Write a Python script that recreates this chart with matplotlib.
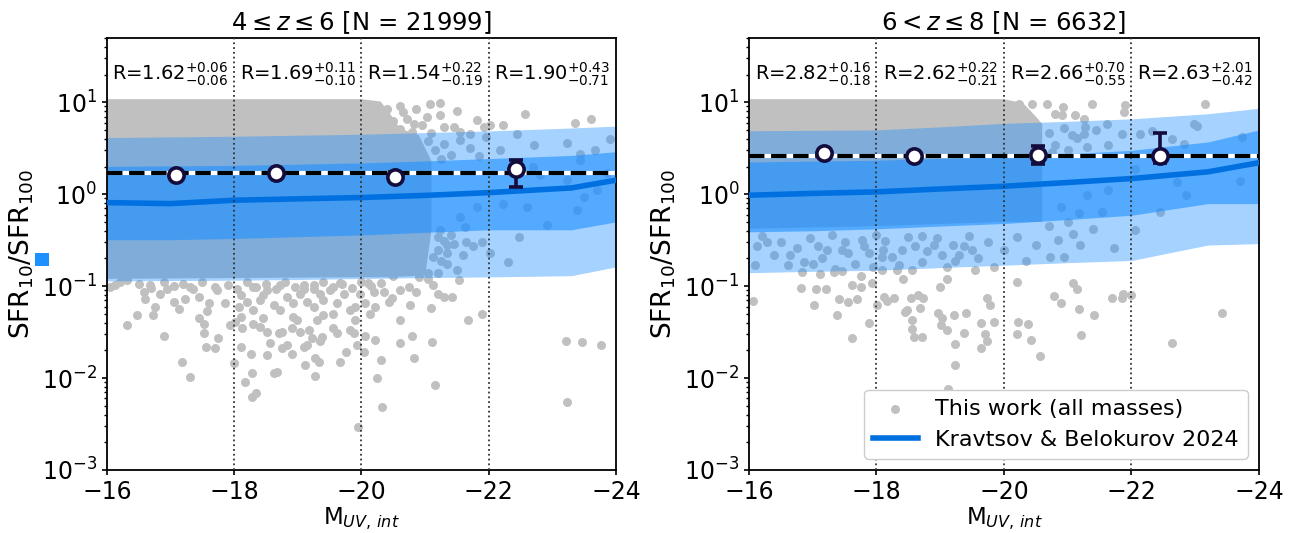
"""SFR10/SFR100 vs intrinsic UV magnitude in two redshift bins, compared to
the Kravtsov & Belokurov 2024 model bands. Values read off the published figure.
"""
import matplotlib.pyplot as plt
from matplotlib.patches import Rectangle

DPI = 100
GRAY = "#c0c0c0"
BAND = "#1e90ff"
MEDIAN_BLUE = "#0070e0"
NAVY = "#140c3c"

# --- model bands (Kravtsov & Belokurov 2024) --------------------------------
KB_MAG_LO = [-16, -17, -18, -19, -20, -21, -22, -23.3, -24]
KB_MED_LO = [0.81, 0.79, 0.86, 0.89, 0.92, 0.97, 1.04, 1.17, 1.42]
KB_IN_LO_LO = [0.32, 0.32, 0.33, 0.345, 0.36, 0.385, 0.41, 0.41, 0.50]
KB_IN_HI_LO = [2.01, 2.03, 2.06, 2.12, 2.19, 2.30, 2.44, 2.64, 2.90]
KB_OUT_LO_LO = [0.114, 0.115, 0.116, 0.118, 0.121, 0.124, 0.126, 0.13, 0.162]
KB_OUT_HI_LO = [4.13, 4.20, 4.27, 4.38, 4.49, 4.68, 4.88, 5.25, 5.50]

KB_MAG_HI = [-16, -17, -18, -19, -20, -21, -22, -23.2, -24]
KB_MED_HI = [0.975, 1.02, 1.06, 1.14, 1.22, 1.34, 1.48, 1.75, 2.20]
KB_IN_LO_HI = [0.39, 0.40, 0.42, 0.45, 0.48, 0.53, 0.59, 0.79, 0.79]
KB_IN_HI_HI = [2.24, 2.29, 2.34, 2.45, 2.55, 2.75, 3.00, 3.70, 5.00]
KB_OUT_LO_HI = [0.14, 0.145, 0.149, 0.159, 0.169, 0.18, 0.19, 0.28, 0.29]
KB_OUT_HI_HI = [4.9, 4.95, 5.0, 5.4, 5.9, 6.2, 6.6, 7.5, 8.6]

# --- binned medians ---------------------------------------------------------
BIN_MAG_LO = [-17.09, -18.66, -20.53, -22.43]
R_LO = [1.62, 1.69, 1.54, 1.90]
R_UP_LO = [0.06, 0.11, 0.22, 0.43]
R_DN_LO = [0.06, 0.10, 0.19, 0.71]
R_ALL_LO = 1.68

BIN_MAG_HI = [-17.17, -18.59, -20.53, -22.45]
R_HI = [2.82, 2.62, 2.66, 2.63]
R_UP_HI = [0.16, 0.22, 0.70, 2.01]
R_DN_HI = [0.18, 0.21, 0.55, 0.42]
R_ALL_HI = 2.60

BIN_EDGES = [-18, -20, -22]
TEXT_MAG = [-17, -19, -21, -23]

# --- galaxies: dense core outline + individually read sparse points ---------
# core outline sits inside the blue bands where its edge would otherwise show
CORE_MAG_LO = [-16, -20.0, -20.3, -20.45, -20.6, -20.9, -21.1, -21.1, -21.0, -20.4, -20.0, -16.0]
CORE_Y_LO = [10.8, 10.8, 10.2, 7.5, 5.2, 4.4, 2.3, 0.4, 0.13, 0.125, 0.125, 0.12]

PTS_MAG_LO = [
    -16.31, -16.47, -16.89, -17.18, -17.30, -16.73, -16.76, -16.60, -16.58, -16.84,
    -17.05, -17.13, -17.23, -17.44, -17.44, -17.52, -17.52, -17.57, -17.60, -17.75,
    -17.70, -17.55, -17.94, -17.99, -18.01, -18.12, -18.11, -18.17, -18.28, -18.26,
    -18.28, -18.34, -18.30, -18.41, -18.46, -18.51, -18.57, -18.51, -18.62, -18.68,
    -18.70, -18.75, -18.75, -18.83, -18.91, -18.91, -18.99, -19.04, -19.09, -19.14,
    -19.11, -19.17, -19.22, -19.27, -19.34, -19.27, -19.35, -19.38, -19.30, -19.40,
    -19.56, -19.61, -19.67, -19.76, -19.82, -19.88, -19.90, -19.93, -19.95, -20.04,
    -20.06, -20.22, -20.24, -20.31, -20.32, -20.60, -20.60, -20.79, -20.83, -21.11,
    -21.16, -21.09, -20.77, -20.48, -20.43, -20.35, -20.19, -20.11, -19.98, -20.06,
    -20.14, -20.22, -20.61, -20.74, -20.85, -21.05, -21.13, -21.21, -21.29, -21.42,
    -21.53, -21.67, -21.90, -23.22, -23.47, -23.77, -23.23,
    -16.13, -16.05, -16.31, -16.68, -16.94, -17.31, -17.73, -17.86, -18.10, -18.20,
    -18.30, -18.41, -18.51, -18.62, -18.72, -18.83, -18.93, -19.04, -19.14, -19.25,
    -19.40, -19.51, -19.61, -19.72, -19.82, -19.90, -18.72, -19.25, -19.67, -18.30,
    -19.56, -18.93, -18.10, -18.07, -18.46, -19.09, -19.35,
    -16.20, -16.50, -16.90, -17.20, -17.50, -17.90, -18.20, -18.50, -18.80, -19.10,
    -19.40, -19.70, -20.00, -20.30, -16.70, -17.05, -17.35, -17.70, -18.05, -18.35,
    -18.65, -18.95, -19.25, -19.55, -19.85, -20.15,
    -20.61, -20.85, -21.08, -21.24, -21.50, -21.81, -22.23, -22.57, -23.36, -23.61,
    -21.29, -21.45, -21.55, -21.71, -21.24, -21.03, -20.71, -20.61, -20.82, -21.92,
    -22.02, -22.44, -22.71, -23.23, -23.44, -23.67, -23.91,
    -21.24, -21.45, -21.63, -21.76, -22.02, -22.31, -22.47, -21.34, -21.13, -20.92,
    -21.55, -21.81, -22.23, -22.60, -22.91, -23.39, -23.49, -23.70, -23.23, -22.81,
    -23.44, -22.18, -22.70, -23.86,
    -20.45, -20.60, -20.75, -20.90, -21.05, -21.15, -21.30, -21.40, -21.55, -21.70,
    -21.85, -21.95, -20.55, -20.85, -21.25, -20.40, -20.50, -20.65, -20.80, -20.95,
    -21.10, -20.45, -20.55, -20.65, -20.70, -20.85, -20.95, -21.05, -21.20, -21.30,
    -21.50, -21.60, -21.90, -20.50, -20.90,
    -21.20, -21.35, -21.25, -21.40, -21.65, -21.20, -21.35,
]
PTS_Y_LO = [
    0.038, 0.048, 0.029, 0.015, 0.0103, 0.048, 0.060, 0.073, 0.087, 0.083,
    0.068, 0.057, 0.073, 0.077, 0.045, 0.039, 0.031, 0.053, 0.065, 0.027,
    0.0215, 0.022, 0.038, 0.0145, 0.041, 0.035, 0.022, 0.0091, 0.0114, 0.0182,
    0.0063, 0.0068, 0.039, 0.036, 0.0445, 0.032, 0.024, 0.018, 0.0114, 0.0116,
    0.031, 0.032, 0.0215, 0.023, 0.0185, 0.035, 0.043, 0.032, 0.022, 0.023,
    0.0139, 0.033, 0.027, 0.0164, 0.0151, 0.0104, 0.025, 0.028, 0.043, 0.048,
    0.035, 0.031, 0.015, 0.019, 0.033, 0.031, 0.043, 0.023, 0.0029, 0.019,
    0.029, 0.026, 0.0099, 0.0157, 0.0049, 0.024, 0.043, 0.029, 0.0164, 0.0245,
    0.0085, 0.058, 0.063, 0.075, 0.068, 0.087, 0.087, 0.107, 0.083, 0.065,
    0.050, 0.060, 0.091, 0.098, 0.087, 0.121, 0.103, 0.083, 0.077, 0.077,
    0.116, 0.043, 0.050, 0.025, 0.0245, 0.023, 0.0055,
    0.103, 0.098, 0.116, 0.103, 0.094, 0.098, 0.091, 0.065, 0.080, 0.068,
    0.055, 0.070, 0.091, 0.062, 0.055, 0.077, 0.065, 0.083, 0.068, 0.060,
    0.070, 0.091, 0.065, 0.083, 0.055, 0.060, 0.103, 0.103, 0.107, 0.098,
    0.050, 0.046, 0.046, 0.060, 0.080, 0.094, 0.083,
    0.110, 0.105, 0.112, 0.106, 0.110, 0.104, 0.112, 0.106, 0.111, 0.104,
    0.110, 0.105, 0.112, 0.108, 0.096, 0.100, 0.094, 0.099, 0.093, 0.098,
    0.092, 0.097, 0.093, 0.099, 0.095, 0.100,
    9.04, 8.53, 9.67, 9.83, 8.05, 6.37, 5.72, 7.40, 6.01, 6.64,
    5.39, 5.39, 4.76, 4.56, 7.22, 6.93, 6.64, 5.17, 5.86, 5.39,
    5.62, 4.56, 3.41, 3.61, 2.77, 3.06, 4.03,
    0.41, 0.29, 0.44, 0.27, 0.23, 0.184, 0.34, 0.176, 0.21, 0.27,
    0.57, 0.73, 0.79, 0.73, 0.46, 0.67, 0.935, 1.10, 1.42, 1.61,
    2.34, 3.00, 1.98, 1.68,
    4.2, 3.6, 4.0, 3.3, 3.8, 3.0, 3.5, 2.7, 3.9, 3.2,
    2.6, 4.2, 2.6, 2.5, 2.4, 8.5, 6.2, 7.8, 4.8, 5.6,
    4.6, 0.30, 0.20, 0.15, 0.25, 0.18, 0.33, 0.14, 0.25, 0.31,
    0.15, 0.22, 0.30, 0.13, 0.125,
    0.34, 0.28, 0.19, 0.36, 0.30, 0.14, 0.23,
]

CORE_MAG_HI = [-16, -20.0, -20.3, -20.5, -20.6, -20.6, -20.6, -20.0, -18.0, -16.0]
CORE_Y_HI = [10.8, 10.8, 9.8, 7.0, 5.8, 2.7, 0.5, 0.5, 0.45, 0.42]

PTS_MAG_HI = [
    -16.06, -16.81, -17.05, -17.21, -17.02, -17.41, -17.55, -17.69, -17.38, -17.62,
    -17.62, -17.76, -17.89, -17.93, -18.01, -18.12, -18.16, -18.28, -18.42, -18.45,
    -18.48, -18.56, -18.55, -18.59, -18.54, -18.65, -18.73, -18.72, -18.68, -18.96,
    -18.99, -19.03, -19.01, -19.10, -19.22, -19.24, -19.24, -19.37, -19.40, -19.64,
    -19.64, -19.71, -19.73, -19.73, -19.78, -19.84, -19.11, -20.20, -20.22, -20.21,
    -20.37, -20.42, -20.57, -20.79, -20.90, -21.09, -21.15, -21.17, -21.21, -21.42,
    -21.70, -21.85, -21.87, -22.00, -22.64, -23.42, -19.12,
    -16.83, -17.12, -17.33, -17.46, -17.75, -18.09, -18.32, -19.55,
    -20.23, -20.44, -20.67, -20.92, -21.38, -21.90, -23.16, -21.88, -21.12, -20.91,
    -20.80, -21.25, -21.27, -21.61, -21.25, -21.07, -21.85, -22.14, -22.32, -22.82,
    -22.98, -23.03, -23.73, -21.64, -22.64, -22.06, -22.71, -22.85, -23.71, -22.45,
    -22.06, -21.72, -21.09, -20.95, -20.73, -21.17, -21.54, -21.31, -21.64, -20.89,
    -16.13, -16.28, -16.65, -16.62, -16.86, -17.01, -17.09, -17.22, -17.46, -17.56,
    -17.67, -17.77, -17.88, -18.09, -18.14, -18.35, -18.40, -18.61, -18.71, -18.71,
    -18.90, -19.03, -19.24, -19.37, -19.50,
    -16.20, -16.40, -16.50, -16.75, -16.95, -17.15, -17.30, -17.35, -17.50, -17.80,
    -17.95, -18.00, -18.25, -18.50, -18.55, -18.80, -18.95, -19.10, -19.20, -19.45,
    -19.60, -19.75, -19.85, -20.00, -20.20, -20.35, -20.50, -16.10, -18.10, -19.30,
    -20.70, -20.80, -20.95, -21.00, -21.15, -21.30, -21.45, -20.75,
    -20.70, -20.85, -21.00, -21.20, -21.40,
]
PTS_Y_HI = [
    0.0687, 0.0944, 0.092, 0.094, 0.062, 0.0716, 0.0666, 0.0716, 0.048, 0.027,
    0.103, 0.098, 0.040, 0.109, 0.062, 0.0766, 0.0687, 0.075, 0.119, 0.0526,
    0.0548, 0.0427, 0.0339, 0.0281, 0.075, 0.080, 0.0734, 0.0281, 0.0572, 0.0505,
    0.098, 0.0453, 0.0377, 0.0333, 0.0484, 0.0233, 0.0138, 0.0306, 0.051, 0.040,
    0.0214, 0.030, 0.0255, 0.075, 0.062, 0.041, 0.12, 0.110, 0.0405, 0.030,
    0.0385, 0.0259, 0.0173, 0.0782, 0.0654, 0.107, 0.093, 0.0567, 0.0293, 0.0484,
    0.0745, 0.075, 0.083, 0.081, 0.0238, 0.0514, 0.0077,
    0.143, 0.136, 0.143, 0.147, 0.13, 0.149, 0.149, 0.149,
    9.67, 9.67, 9.67, 8.80, 9.67, 9.30, 9.50, 7.85, 7.22, 7.22,
    7.50, 6.64, 5.39, 5.86, 4.56, 4.37, 4.56, 4.56, 4.90, 3.54,
    5.86, 5.50, 4.20, 3.41, 4.03, 1.90, 1.36, 0.99, 1.40, 0.64,
    0.41, 0.26, 0.37, 0.21, 0.21, 0.62, 0.64, 0.99, 1.10, 0.73,
    0.27, 0.30, 0.217, 0.169, 0.184, 0.176, 0.27, 0.25, 0.25, 0.23,
    0.176, 0.32, 0.23, 0.21, 0.31, 0.169, 0.25, 0.27, 0.35, 0.184,
    0.28, 0.217, 0.19, 0.27, 0.25,
    0.35, 0.22, 0.30, 0.26, 0.33, 0.20, 0.36, 0.155, 0.30, 0.27,
    0.16, 0.36, 0.21, 0.34, 0.15, 0.24, 0.33, 0.16, 0.28, 0.35,
    0.20, 0.30, 0.16, 0.25, 0.34, 0.19, 0.28, 0.17, 0.25, 0.22,
    4.6, 3.4, 5.2, 3.0, 4.1, 3.3, 5.0, 2.9,
    0.45, 0.32, 0.50, 0.28, 0.42,
]

PANELS = [
    dict(title=r"$4 \leq z \leq 6$ [N = 21999]",
         core_mag=CORE_MAG_LO, core_y=CORE_Y_LO, pts_mag=PTS_MAG_LO, pts_y=PTS_Y_LO,
         kb_mag=KB_MAG_LO, kb_med=KB_MED_LO, kb_in=(KB_IN_LO_LO, KB_IN_HI_LO),
         kb_out=(KB_OUT_LO_LO, KB_OUT_HI_LO),
         bin_mag=BIN_MAG_LO, r=R_LO, r_up=R_UP_LO, r_dn=R_DN_LO, r_all=R_ALL_LO),
    dict(title=r"$6 < z \leq 8$ [N = 6632]",
         core_mag=CORE_MAG_HI, core_y=CORE_Y_HI, pts_mag=PTS_MAG_HI, pts_y=PTS_Y_HI,
         kb_mag=KB_MAG_HI, kb_med=KB_MED_HI, kb_in=(KB_IN_LO_HI, KB_IN_HI_HI),
         kb_out=(KB_OUT_LO_HI, KB_OUT_HI_HI),
         bin_mag=BIN_MAG_HI, r=R_HI, r_up=R_UP_HI, r_dn=R_DN_HI, r_all=R_ALL_HI),
]


def draw_panel(ax, p):
    ax.set_yscale("log")

    # galaxies: dense core as a filled region, outliers as individual dots
    ax.fill(p["core_mag"], p["core_y"], color=GRAY, lw=0, zorder=1)
    sc = ax.scatter(p["pts_mag"], p["pts_y"], s=42, color=GRAY, lw=0, zorder=1,
                    label="This work (all masses)")

    ax.fill_between(p["kb_mag"], *p["kb_out"], color=BAND, alpha=0.4, lw=0, zorder=2)
    ax.fill_between(p["kb_mag"], *p["kb_in"], color=BAND, alpha=0.6, lw=0, zorder=2)
    (med,) = ax.plot(p["kb_mag"], p["kb_med"], color=MEDIAN_BLUE, lw=4, zorder=3,
                     label="Kravtsov & Belokurov 2024")

    for edge in BIN_EDGES:
        ax.axvline(edge, color="#333333", ls=":", lw=1.3, zorder=4)

    ax.axhline(p["r_all"], color="white", lw=3, zorder=5)
    ax.axhline(p["r_all"], color="black", lw=3, ls="--", zorder=5)

    ax.errorbar(p["bin_mag"], p["r"], yerr=[p["r_dn"], p["r_up"]], fmt="o",
                mfc="white", mec=NAVY, mew=2.6, ms=11, ecolor=NAVY, elinewidth=2.6,
                capsize=5, capthick=2.6, zorder=6)

    for xm, r, up, dn in zip(TEXT_MAG, p["r"], p["r_up"], p["r_dn"]):
        ax.text(xm, 20, rf"R={r:.2f}$^{{+{up:.2f}}}_{{-{dn:.2f}}}$",
                ha="center", va="center", fontsize=14, zorder=7)

    ax.set_xlim(-16, -24)
    ax.set_ylim(1e-3, 50)
    ax.set_xticks([-16, -18, -20, -22, -24])
    ax.set_title(p["title"], fontsize=17.5)
    ax.set_xlabel(r"M$_{UV,\,int}$", fontsize=16.5, labelpad=1)
    ax.set_ylabel(r"SFR$_{10}$/SFR$_{100}$", fontsize=19)
    ax.tick_params(labelsize=17, width=1.2)
    ax.tick_params(which="minor", width=1.0)
    for s in ax.spines.values():
        s.set_linewidth(1.3)
    return sc, med


def main():
    fig = plt.figure(figsize=(12.9, 5.33), dpi=DPI)
    ax_l = fig.add_axes([0.0829, 0.1182, 0.3946, 0.8105])
    ax_r = fig.add_axes([0.5806, 0.1182, 0.3953, 0.8105])

    draw_panel(ax_l, PANELS[0])
    sc, med = draw_panel(ax_r, PANELS[1])
    ax_r.legend([sc, med], [sc.get_label(), med.get_label()], loc="lower right",
                fontsize=16, framealpha=1)

    # stray blue square next to the left y-label in the original
    fig.add_artist(Rectangle((0.0271, 0.501), 0.0109, 0.0244, transform=fig.transFigure,
                             color=BAND, lw=0))

    fig.savefig("out.png", dpi=DPI)
    plt.close(fig)


if __name__ == "__main__":
    main()
